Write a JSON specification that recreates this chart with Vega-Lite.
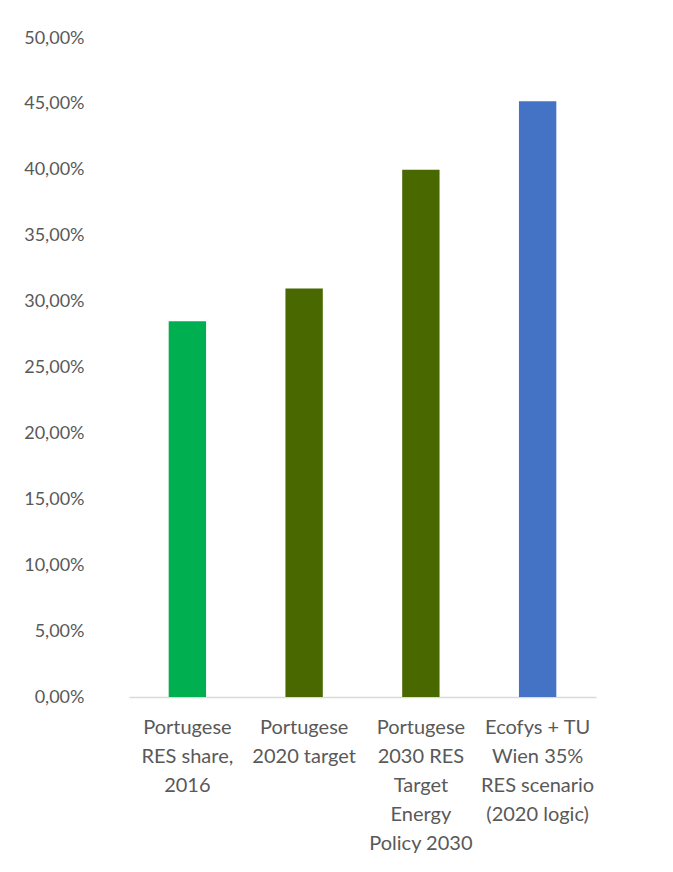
{
  "$schema": "https://vega.github.io/schema/vega-lite/v6.json",
  "autosize": "none",
  "width": 467,
  "height": 659,
  "padding": {"left": 129, "top": 38, "right": 77, "bottom": 175},
  "background": "white",
  "config": {"view": {"stroke": null}},
  "data": {
    "values": [
      {"cat": "Portugese|RES share,|2016", "value": 0.285, "color": "#00B050"},
      {"cat": "Portugese|2020 target", "value": 0.31, "color": "#496900"},
      {"cat": "Portugese|2030 RES|Target|Energy|Policy 2030", "value": 0.40, "color": "#496900"},
      {"cat": "Ecofys + TU|Wien 35%|RES scenario|(2020 logic)", "value": 0.452, "color": "#4472C4"}
    ]
  },
  "mark": {"type": "bar"},
  "encoding": {
    "x": {
      "field": "cat",
      "type": "nominal",
      "sort": null,
      "scale": {"paddingInner": 0.68, "paddingOuter": 0.34},
      "axis": {
        "title": null,
        "labelAngle": 0,
        "labelExpr": "split(datum.value, '|')",
        "labelFont": "Lato",
        "labelFontSize": 20,
        "labelColor": "#595959",
        "labelLineHeight": 29,
        "labelPadding": 20,
        "labelLimit": 200,
        "ticks": false,
        "domainColor": "#D9D9D9",
        "domainWidth": 1.5,
        "grid": false
      }
    },
    "y": {
      "field": "value",
      "type": "quantitative",
      "scale": {"domain": [0, 0.5]},
      "axis": {
        "title": null,
        "values": [0, 0.05, 0.1, 0.15, 0.2, 0.25, 0.3, 0.35, 0.4, 0.45, 0.5],
        "labelExpr": "replace(format(datum.value, '.2%'), '.', ',')",
        "labelFont": "Lato",
        "labelFontSize": 18,
        "labelColor": "#595959",
        "labelPadding": 45,
        "domain": false,
        "ticks": false,
        "grid": false
      }
    },
    "color": {"field": "color", "type": "nominal", "scale": null, "legend": null}
  }
}
